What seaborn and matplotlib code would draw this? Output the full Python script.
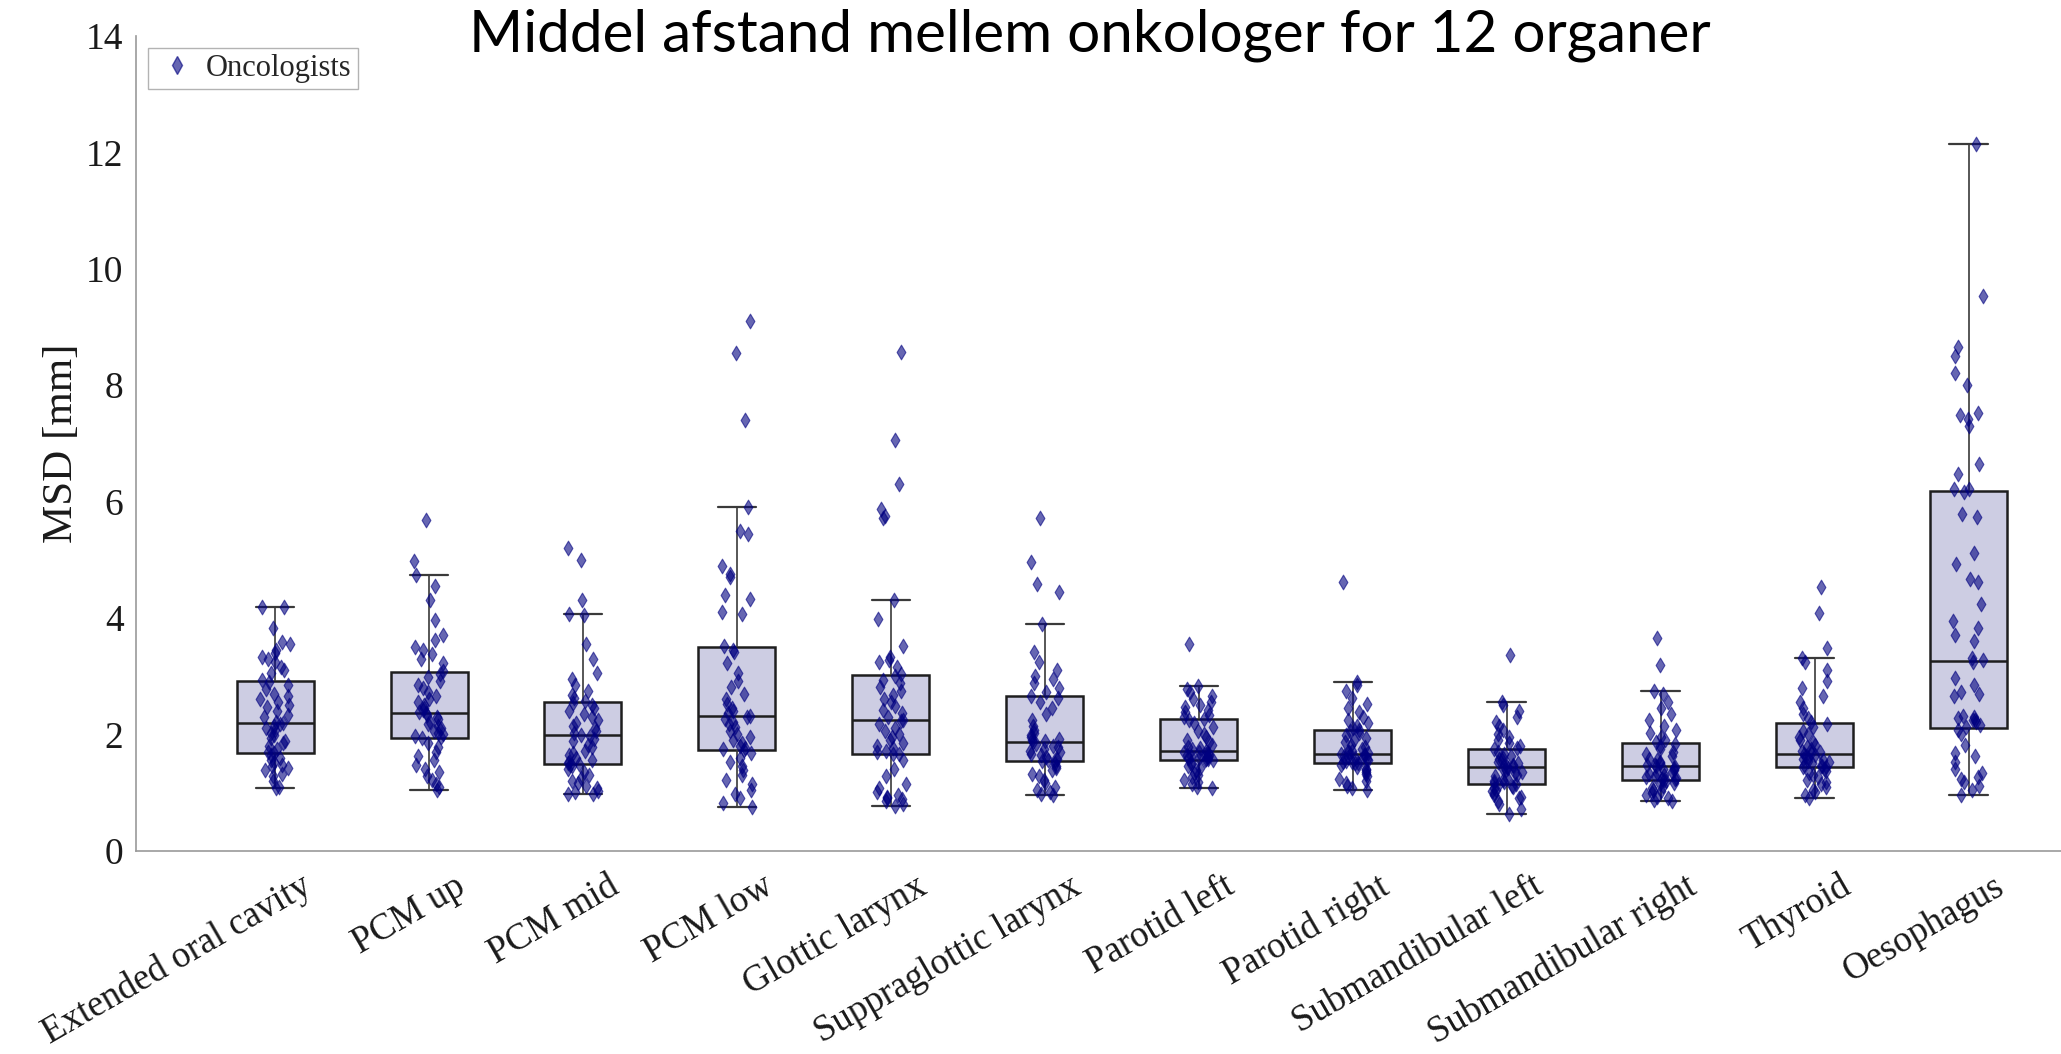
import numpy as np
import pandas as pd
import seaborn as sns
import matplotlib.pyplot as plt
from matplotlib.lines import Line2D
from matplotlib.transforms import ScaledTranslation

# organer paa x-aksen
organer = ["Extended oral cavity", "PCM up", "PCM mid", "PCM low", "Glottic larynx",
           "Suppraglottic larynx", "Parotid left", "Parotid right", "Submandibular left",
           "Submandibular right", "Thyroid", "Oesophagus"]

# MSD [mm] per onkolog, aflaest fra figuren
oral_cavity = [4.19, 4.18, 3.83, 3.58, 3.55, 3.45, 3.40, 3.33, 3.30, 3.25, 3.16, 3.10, 3.05, 2.93,
               2.90, 2.85, 2.78, 2.70, 2.65, 2.60, 2.55, 2.50, 2.47, 2.40, 2.33, 2.30, 2.21,
               2.19, 2.17, 2.14, 2.10, 2.07, 2.03, 1.99, 1.93, 1.88, 1.85, 1.80, 1.75, 1.70,
               1.68, 1.64, 1.60, 1.56, 1.53, 1.48, 1.45, 1.42, 1.38, 1.32, 1.28, 1.20, 1.09, 1.08]
pcm_up = [5.68, 4.98, 4.73, 4.55, 4.30, 3.97, 3.70, 3.62, 3.50, 3.45, 3.38, 3.30, 3.22, 3.08,
          3.03, 2.98, 2.92, 2.85, 2.80, 2.72, 2.66, 2.60, 2.55, 2.50, 2.46, 2.42, 2.38,
          2.36, 2.33, 2.30, 2.26, 2.22, 2.18, 2.14, 2.10, 2.06, 2.03, 2.00, 1.97, 1.95,
          1.93, 1.85, 1.78, 1.70, 1.62, 1.55, 1.48, 1.40, 1.35, 1.28, 1.22, 1.15, 1.10, 1.04]
pcm_mid = [5.20, 5.00, 4.31, 4.07, 4.05, 3.55, 3.30, 3.05, 2.95, 2.85, 2.75, 2.68, 2.62, 2.57,
           2.54, 2.50, 2.45, 2.40, 2.35, 2.30, 2.25, 2.20, 2.15, 2.10, 2.05, 2.02, 1.99,
           1.97, 1.92, 1.88, 1.82, 1.78, 1.72, 1.68, 1.64, 1.60, 1.56, 1.53, 1.51, 1.49,
           1.48, 1.45, 1.40, 1.35, 1.30, 1.25, 1.20, 1.16, 1.12, 1.08, 1.03, 1.00, 0.98, 0.97]
pcm_low = [9.10, 8.55, 7.40, 5.90, 5.50, 5.45, 4.89, 4.75, 4.71, 4.39, 4.33, 4.10, 4.06, 3.51,
           3.45, 3.41, 3.23, 3.05, 2.92, 2.82, 2.69, 2.60, 2.52, 2.45, 2.40, 2.36, 2.32,
           2.30, 2.26, 2.22, 2.18, 2.12, 2.05, 2.00, 1.95, 1.90, 1.85, 1.80, 1.76, 1.74,
           1.73, 1.68, 1.60, 1.52, 1.45, 1.38, 1.30, 1.22, 1.15, 1.05, 0.98, 0.90, 0.82, 0.75]
glottic = [8.57, 7.05, 6.30, 5.87, 5.75, 5.72, 4.30, 3.98, 3.52, 3.33, 3.28, 3.24, 3.15, 3.03,
           3.00, 2.93, 2.88, 2.82, 2.75, 2.68, 2.60, 2.55, 2.48, 2.42, 2.36, 2.30, 2.25,
           2.23, 2.18, 2.10, 2.05, 2.00, 1.95, 1.90, 1.85, 1.80, 1.76, 1.72, 1.69, 1.67,
           1.66, 1.55, 1.40, 1.28, 1.15, 1.08, 1.00, 0.95, 0.92, 0.90, 0.88, 0.85, 0.80, 0.77]
supraglottic = [5.72, 4.96, 4.58, 4.45, 3.89, 3.42, 3.25, 3.10, 3.00, 2.95, 2.88, 2.80, 2.72, 2.66,
                2.63, 2.55, 2.45, 2.35, 2.25, 2.15, 2.08, 2.02, 1.98, 1.95, 1.92, 1.90, 1.88,
                1.86, 1.84, 1.80, 1.78, 1.75, 1.72, 1.70, 1.67, 1.64, 1.61, 1.58, 1.56, 1.55,
                1.54, 1.50, 1.46, 1.42, 1.38, 1.32, 1.28, 1.22, 1.16, 1.10, 1.05, 1.01, 0.98, 0.96]
parotid_left = [3.56, 2.83, 2.78, 2.72, 2.65, 2.60, 2.55, 2.50, 2.47, 2.42, 2.38, 2.34, 2.30, 2.27,
                2.25, 2.20, 2.12, 2.05, 2.00, 1.95, 1.90, 1.86, 1.82, 1.79, 1.76, 1.74, 1.72,
                1.70, 1.69, 1.68, 1.67, 1.65, 1.64, 1.62, 1.61, 1.60, 1.59, 1.58, 1.57, 1.56,
                1.55, 1.52, 1.49, 1.46, 1.42, 1.38, 1.34, 1.30, 1.26, 1.22, 1.18, 1.14, 1.10, 1.08]
parotid_right = [4.61, 2.90, 2.85, 2.75, 2.62, 2.52, 2.45, 2.38, 2.30, 2.25, 2.20, 2.15, 2.11, 2.08,
                 2.06, 2.02, 1.98, 1.94, 1.90, 1.86, 1.82, 1.78, 1.75, 1.72, 1.70, 1.69, 1.68,
                 1.66, 1.65, 1.64, 1.62, 1.61, 1.60, 1.58, 1.57, 1.56, 1.54, 1.53, 1.52, 1.51,
                 1.50, 1.47, 1.44, 1.41, 1.38, 1.35, 1.32, 1.28, 1.24, 1.20, 1.16, 1.12, 1.08, 1.05]
submand_left = [3.37, 2.55, 2.50, 2.40, 2.30, 2.22, 2.15, 2.08, 2.00, 1.95, 1.90, 1.85, 1.80, 1.76,
                1.74, 1.70, 1.66, 1.62, 1.60, 1.57, 1.55, 1.52, 1.50, 1.48, 1.46, 1.45, 1.44,
                1.42, 1.40, 1.38, 1.36, 1.33, 1.30, 1.28, 1.25, 1.22, 1.20, 1.18, 1.16, 1.15,
                1.14, 1.12, 1.10, 1.08, 1.05, 1.02, 0.99, 0.96, 0.93, 0.90, 0.86, 0.80, 0.72, 0.63]
submand_right = [3.65, 3.19, 2.74, 2.70, 2.55, 2.45, 2.35, 2.25, 2.15, 2.08, 2.02, 1.96, 1.90, 1.86,
                 1.84, 1.80, 1.75, 1.70, 1.66, 1.62, 1.58, 1.55, 1.52, 1.50, 1.48, 1.47, 1.46,
                 1.44, 1.42, 1.40, 1.38, 1.36, 1.34, 1.32, 1.30, 1.28, 1.26, 1.25, 1.24, 1.23,
                 1.22, 1.20, 1.17, 1.14, 1.11, 1.08, 1.05, 1.02, 0.99, 0.96, 0.93, 0.90, 0.87, 0.85]
thyroid = [4.54, 4.08, 3.48, 3.31, 3.25, 3.10, 2.92, 2.80, 2.65, 2.55, 2.45, 2.35, 2.28, 2.21,
           2.18, 2.12, 2.05, 2.00, 1.95, 1.90, 1.86, 1.82, 1.78, 1.75, 1.72, 1.70, 1.68,
           1.66, 1.64, 1.62, 1.60, 1.58, 1.56, 1.54, 1.52, 1.50, 1.48, 1.46, 1.45, 1.44,
           1.43, 1.40, 1.37, 1.34, 1.30, 1.26, 1.22, 1.18, 1.14, 1.10, 1.05, 1.00, 0.95, 0.91]
oesophagus = [12.15, 9.53, 8.65, 8.51, 8.21, 8.00, 7.53, 7.48, 7.42, 7.30, 6.65, 6.47, 6.22, 6.21,
              6.17, 5.78, 5.74, 5.12, 4.92, 4.67, 4.61, 4.24, 3.94, 3.83, 3.70, 3.61, 3.31, 3.27,
              3.25, 2.96, 2.84, 2.73, 2.70, 2.65, 2.31, 2.30, 2.28, 2.25, 2.24, 2.22, 2.16, 2.12,
              2.07, 2.00, 1.82, 1.68, 1.62, 1.52, 1.41, 1.33, 1.26, 1.24, 1.18, 1.11, 1.05, 0.96]

maalinger = [oral_cavity, pcm_up, pcm_mid, pcm_low, glottic, supraglottic, parotid_left,
             parotid_right, submand_left, submand_right, thyroid, oesophagus]
df = pd.DataFrame({
    "Organ": np.repeat(organer, [len(m) for m in maalinger]),
    "MSD": np.concatenate(maalinger),
})

sns.set_style("white")
plt.rcParams["font.family"] = ["Liberation Serif", "DejaVu Serif"]

fig = plt.figure(figsize=(20.61, 10.54), dpi=100)
ax = fig.add_axes([0.066, 0.1929, 0.934, 0.7729])

sns.boxplot(data=df, x="Organ", y="MSD", order=organer, width=0.5, showfliers=False,
            color="#CDCDE3", saturation=1, linecolor="#1e1e1e", linewidth=1.8,
            whiskerprops={"color": "#3a3a3a", "linewidth": 1.2},
            capprops={"color": "#3a3a3a", "linewidth": 1.6}, ax=ax)
np.random.seed(7)
sns.stripplot(data=df, x="Organ", y="MSD", order=organer, jitter=0.1, marker="d", size=7.5,
              color="#000080", edgecolor="#000080", linewidth=0.8, alpha=0.6, ax=ax)

ax.set_xlim(-0.903, 11.6)
ax.set_ylim(0, 14)
ax.set_yticks(range(0, 15, 2))
ax.set_xticks(np.arange(len(organer)) + 0.1)
ax.set_xticklabels(organer, rotation=30, ha="right", va="center", rotation_mode="anchor")
ax.tick_params(axis="both", direction="in", length=13.7, width=1, color="#8c8c8c",
               labelsize=27, labelcolor="#1a1a1a")
ax.tick_params(axis="y", pad=9)
ax.tick_params(axis="x", pad=24, labelsize=26.5)
# etiketterne sidder lidt til hoejre for tick-stregen
skub = ScaledTranslation(18 / 100, 0, fig.dpi_scale_trans)
for lab in ax.get_xticklabels():
    lab.set_transform(lab.get_transform() + skub)
for side in ["top", "right"]:
    ax.spines[side].set_visible(False)
for side in ["left", "bottom"]:
    ax.spines[side].set_color("#999999")
    ax.spines[side].set_linewidth(1.2)

ax.set_xlabel("")
ax.set_ylabel("MSD [mm]", fontsize=31, color="#1a1a1a")
ax.yaxis.set_label_coords(-0.0285, 0.5)

handle = Line2D([], [], marker="d", linestyle="none", color="#000080", alpha=0.6, markersize=9)
fig.legend([handle], ["Oncologists"], loc="upper left", bbox_to_anchor=(148 / 2061, 1 - 48 / 1054),
           bbox_transform=fig.transFigure, borderaxespad=0, fontsize=22, frameon=True,
           fancybox=False, edgecolor="#a0a0a0", borderpad=0.2, handlelength=1.5,
           handletextpad=0.2)

fig.text(1090 / 2061, 1 - 35 / 1054, "Middel afstand mellem onkologer for 12 organer",
         ha="center", va="center", fontsize=42, family=["Lato", "DejaVu Sans"], color="black")

fig.savefig("out.png", dpi=100)
